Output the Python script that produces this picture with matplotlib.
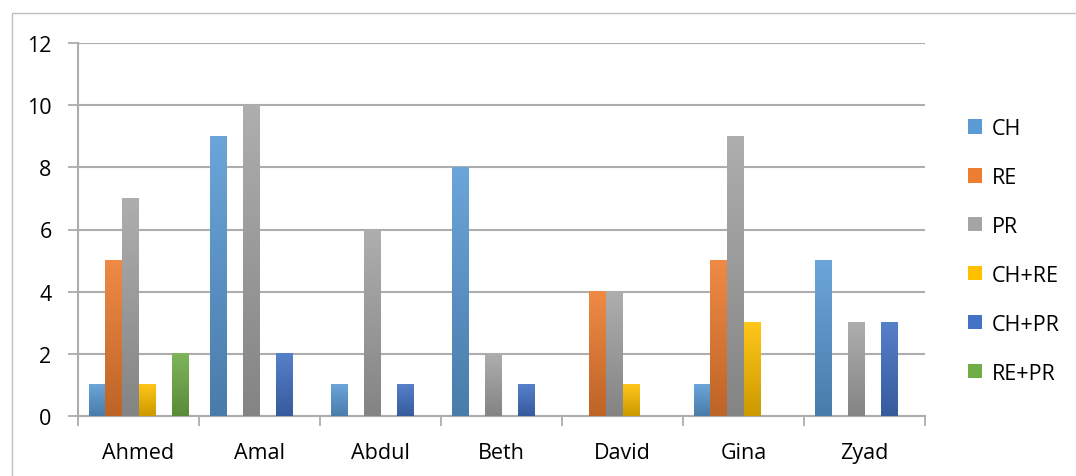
import numpy as np
import matplotlib
matplotlib.use('Agg')
from matplotlib import pyplot as plt
from matplotlib.patches import Rectangle, Patch
from matplotlib.colors import LinearSegmentedColormap, to_rgb

names = ['Ahmed', 'Amal', 'Abdul', 'Beth', 'David', 'Gina', 'Zyad']
series = ['CH', 'RE', 'PR', 'CH+RE', 'CH+PR', 'RE+PR']
ch = [1, 9, 1, 8, 0, 1, 5]
re = [5, 0, 0, 0, 4, 5, 0]
pr = [7, 10, 6, 2, 4, 9, 3]
ch_re = [1, 0, 0, 0, 1, 3, 0]
ch_pr = [0, 2, 1, 1, 0, 0, 3]
re_pr = [2, 0, 0, 0, 0, 0, 0]
values = [ch, re, pr, ch_re, ch_pr, re_pr]
colors = ['#5B9BD5', '#ED7D31', '#A5A5A5', '#FFC000', '#4472C4', '#70AD47']

plt.rcParams['font.family'] = ['Open Sans', 'DejaVu Sans']

fig = plt.figure(figsize=(10.76, 4.77), dpi=100)
# chart area border (cut off at right/bottom like the screenshot)
fig.patches.append(Rectangle((12 / 1076, -0.1), 1.2, 1 - 14 / 477 + 0.1, transform=fig.transFigure,
                             fill=False, edgecolor='#BFBFBF', linewidth=1))
ax = fig.add_axes([78 / 1076, 1 - 417 / 477, 847 / 1076, (417 - 44) / 477])

x = np.arange(len(names))
w = 0.137
grid_c = '#ADADAD'


def shade(c, f):
    r = np.array(to_rgb(c))
    if f > 0:
        return tuple(r + (1 - r) * f)
    return tuple(r * (1 + f))


for i, (s, vals, c) in enumerate(zip(series, values, colors)):
    bars = ax.bar(x + (i - 2.5) * w, vals, w, color=c, zorder=2)
    cmap = LinearSegmentedColormap.from_list('g' + str(i), [shade(c, -0.2), shade(c, 0.1)])
    for b in bars:
        h = b.get_height()
        if h <= 0:
            continue
        b.set_alpha(0)
        grad = np.linspace(0, 1, 100).reshape(-1, 1)
        ax.imshow(grad, extent=[b.get_x(), b.get_x() + b.get_width(), 0, h], origin='lower',
                  cmap=cmap, aspect='auto', zorder=3)

ax.set_xlim(-0.5, len(names) - 0.5)
ax.set_ylim(0, 12)
ax.set_yticks(range(0, 13, 2))
ax.set_xticks(x)
ax.set_xticklabels(names)
ax.set_xticks(np.arange(-0.5, len(names)), minor=True)
ax.tick_params(axis='x', which='major', length=0, pad=19, labelsize=15.5)
ax.tick_params(axis='x', which='minor', length=7, color=grid_c, width=1.3)
ax.tick_params(axis='y', length=7, color=grid_c, width=1.3, pad=12, labelsize=15.5)
ax.yaxis.grid(True, color=grid_c, linewidth=1.5, zorder=0)
ax.set_axisbelow(True)
for sp in ['top', 'right']:
    ax.spines[sp].set_visible(False)
for sp in ['left', 'bottom']:
    ax.spines[sp].set_color(grid_c)
    ax.spines[sp].set_linewidth(1.5)

handles = [Patch(facecolor=c, label=s) for s, c in zip(series, colors)]
leg = fig.legend(handles=handles, loc='center left', bbox_to_anchor=(0.882, 0.472), frameon=False,
                 fontsize=15.5, labelspacing=1.3, handlelength=0.65, handleheight=0.65, handletextpad=0.45)

fig.savefig('out.png', dpi=100)
